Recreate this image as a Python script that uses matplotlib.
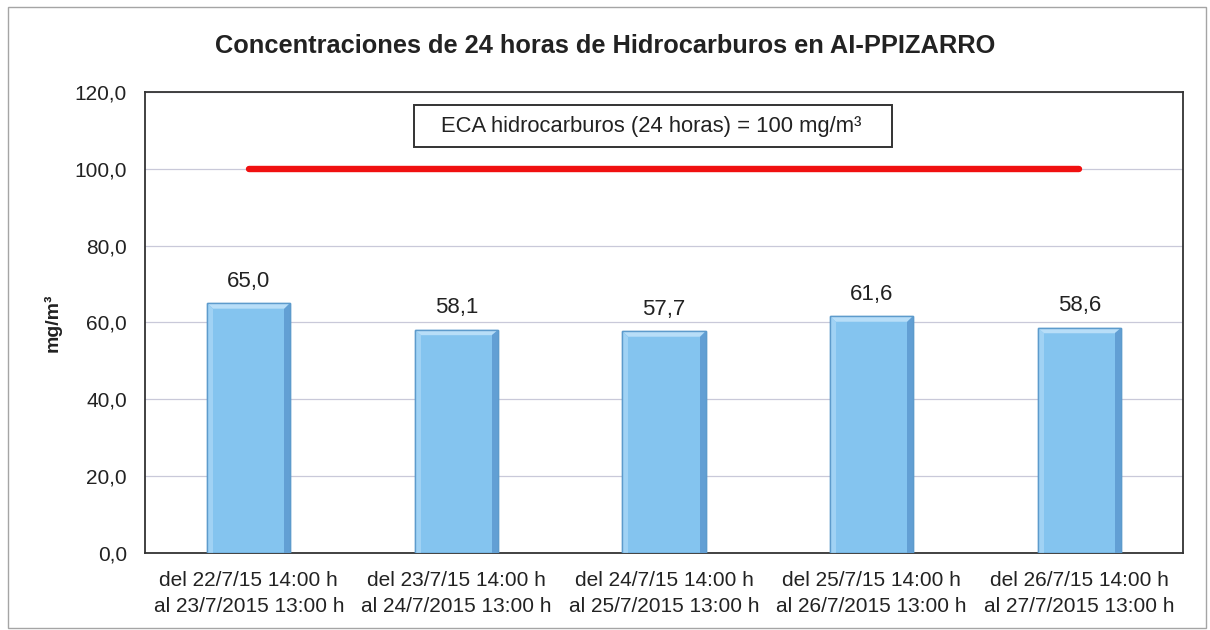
import matplotlib
matplotlib.use("Agg")
import matplotlib.pyplot as plt
from matplotlib.patches import Polygon, Rectangle
from matplotlib.ticker import FuncFormatter

plt.rcParams['font.family'] = ['Liberation Sans', 'DejaVu Sans']

periods = [
    "del 22/7/15 14:00 h\nal 23/7/2015 13:00 h",
    "del 23/7/15 14:00 h\nal 24/7/2015 13:00 h",
    "del 24/7/15 14:00 h\nal 25/7/2015 13:00 h",
    "del 25/7/15 14:00 h\nal 26/7/2015 13:00 h",
    "del 26/7/15 14:00 h\nal 27/7/2015 13:00 h",
]
concentrations = [65.0, 58.1, 57.7, 61.6, 58.6]
eca_limit = 100.0
y_ticks = [0, 20, 40, 60, 80, 100, 120]

fig = plt.figure(figsize=(12.1, 6.3), dpi=100)
ax = fig.add_axes([0.1198, 0.1222, 0.8579, 0.7318])

x = list(range(len(concentrations)))
bar_w = 0.4
ax.bar(x, concentrations, width=bar_w, color='#84c4ef', edgecolor='#5d9bcc',
       linewidth=1.0, zorder=3)

# bevel shading on each bar
bx = 0.028   # horizontal bevel depth (category units)
by = 1.4     # vertical bevel depth (data units)
for xi, v in zip(x, concentrations):
    l, r = xi - bar_w / 2, xi + bar_w / 2
    ax.add_patch(Polygon([(l, v), (r, v), (r - bx, v - by), (l + bx, v - by)],
                         closed=True, facecolor='#b8def8', edgecolor='none', zorder=4))
    ax.add_patch(Polygon([(r, v), (r, 0), (r - bx, 0), (r - bx, v - by)],
                         closed=True, facecolor='#629fd4', edgecolor='none', zorder=4))
    ax.add_patch(Polygon([(l, v), (l, 0), (l + bx, 0), (l + bx, v - by)],
                         closed=True, facecolor='#a0d2f4', edgecolor='none', zorder=4))
    ax.add_patch(Rectangle((l, 0), bar_w, v, facecolor='none', edgecolor='#5d9bcc',
                           linewidth=1.0, zorder=5))
    ax.text(xi, v + 3.0, f"{v:.1f}".replace('.', ','), ha='center', va='bottom',
            fontsize=16, color='#222222', zorder=6)

# ECA limit line
ax.plot([x[0], x[-1]], [eca_limit, eca_limit], color='#f01010', linewidth=4.6,
        solid_capstyle='round', zorder=4)

# ECA label box
ax.add_patch(Rectangle((0.259, 0.8807), 0.4607, 0.0911, transform=ax.transAxes,
                       facecolor='white', edgecolor='#333333', linewidth=1.4, zorder=7))
ax.text(0.4875, 0.926, "ECA hidrocarburos (24 horas) = 100 mg/m³",
        transform=ax.transAxes, ha='center', va='center', fontsize=15.8,
        color='#222222', zorder=8)

ax.set_xlim(-0.5, len(concentrations) - 0.5)
ax.set_ylim(0, 120)
ax.set_yticks(y_ticks)
ax.yaxis.set_major_formatter(FuncFormatter(lambda v, p: f"{v:.1f}".replace('.', ',')))
ax.set_xticks(x)
ax.set_xticklabels(periods, fontsize=15, color='#222222', linespacing=1.45)
ax.tick_params(axis='y', labelsize=15, colors='#222222', length=0, pad=13)
ax.tick_params(axis='x', length=0, pad=13)
ax.grid(axis='y', color='#c9c9d9', linewidth=0.9, zorder=0)
ax.set_axisbelow(True)
for s in ax.spines.values():
    s.set_color('#333333')
    s.set_linewidth(1.3)

ax.set_ylabel("mg/m³", fontsize=14, fontweight='bold', color='#222222', labelpad=9)

fig.text(0.5, 1 - 46 / 630, "Concentraciones de 24 horas de Hidrocarburos en AI-PPIZARRO",
         ha='center', va='center', fontsize=18.3, fontweight='bold', color='#222222')

# outer chart frame
fig.add_artist(Rectangle((8 / 1210, 2 / 630), 1198 / 1210, 621 / 630,
                         transform=fig.transFigure, facecolor='none',
                         edgecolor='#a5a5a5', linewidth=1.0))

fig.savefig("out.png", dpi=100)
